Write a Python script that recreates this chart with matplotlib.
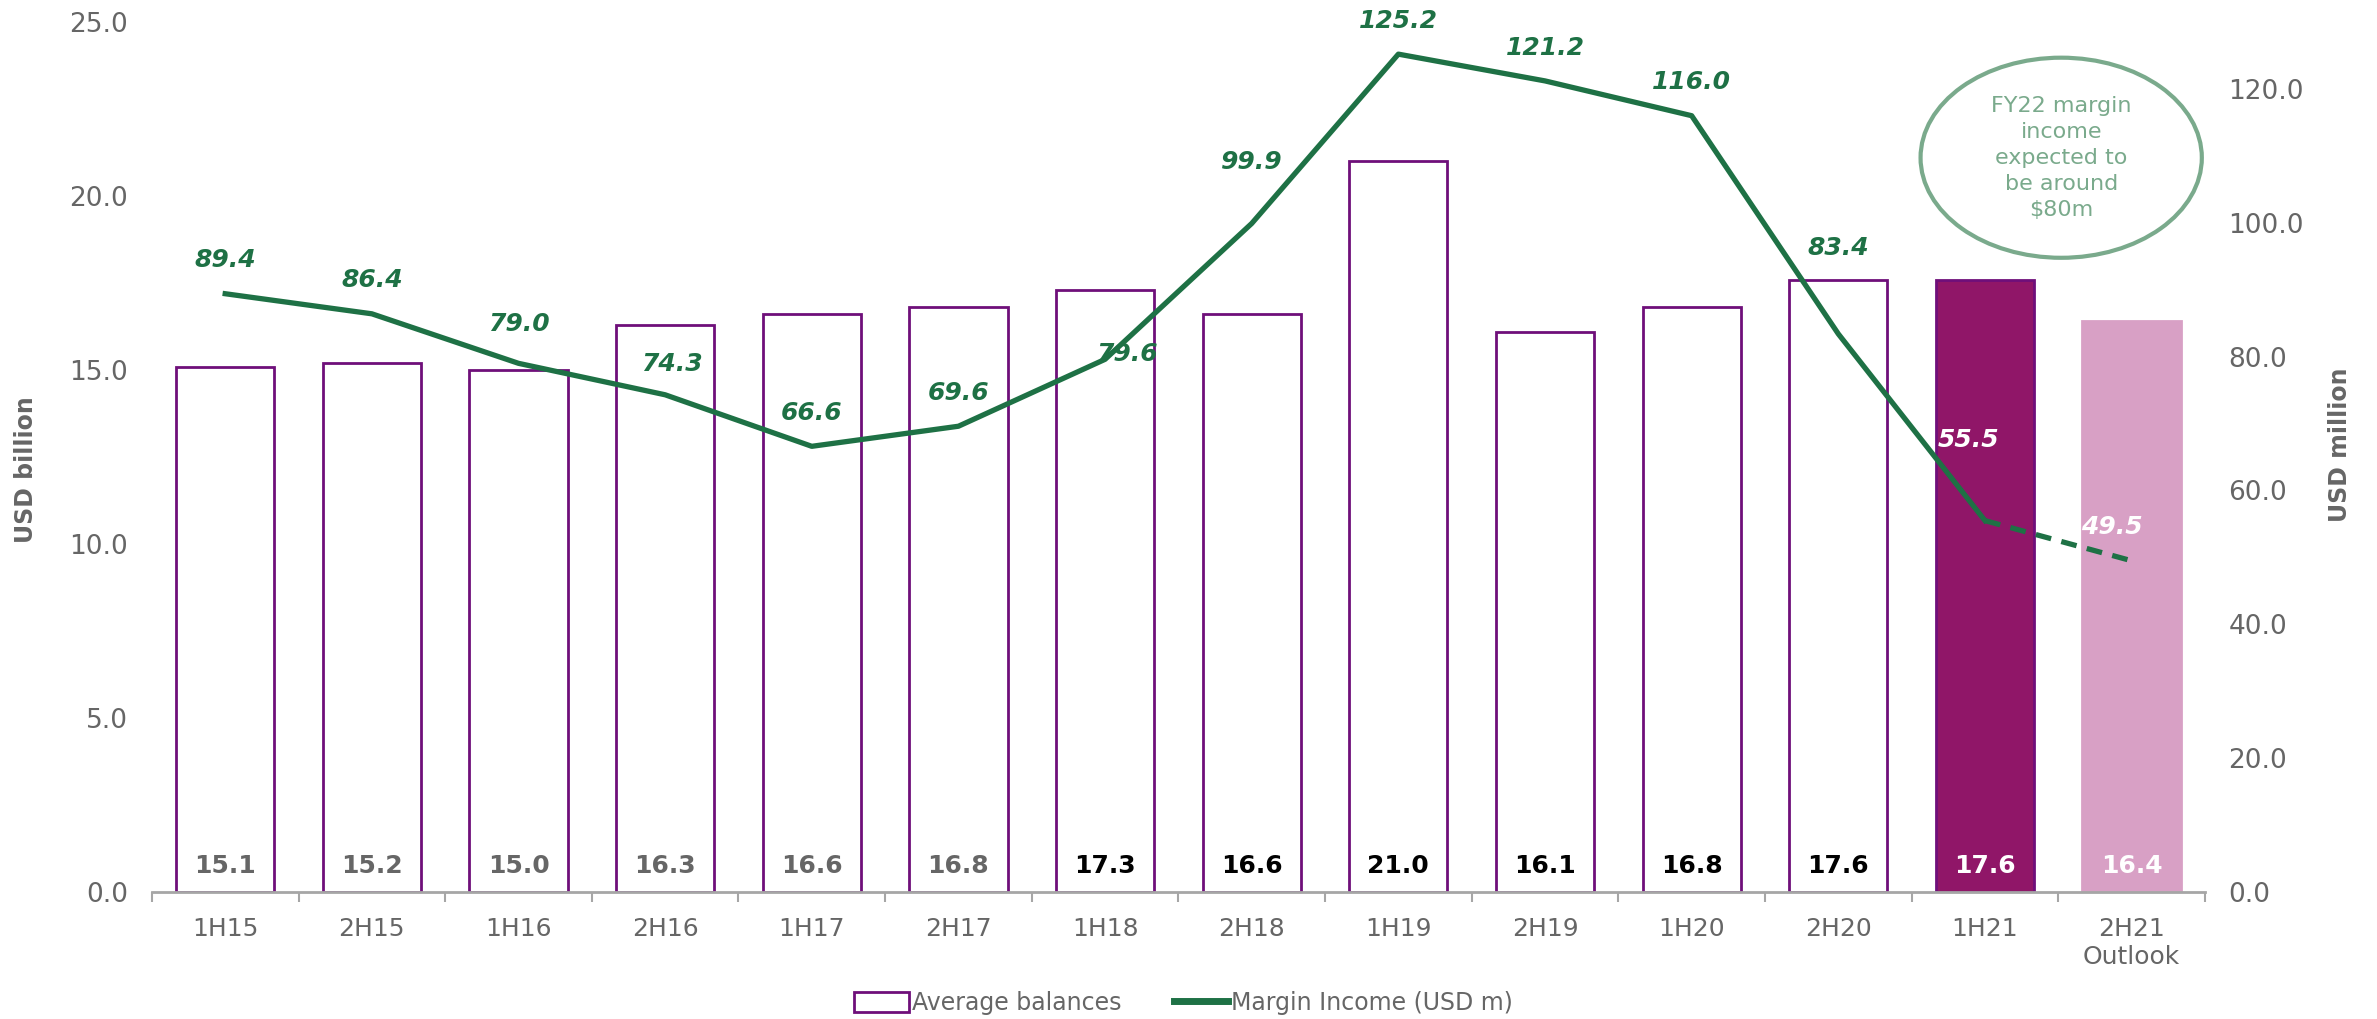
import matplotlib
matplotlib.use("Agg")
import matplotlib.pyplot as plt
from matplotlib.patches import Ellipse, Patch
from matplotlib.lines import Line2D
import numpy as np

# DATA
periods = ["1H15", "2H15", "1H16", "2H16", "1H17", "2H17", "1H18", "2H18",
           "1H19", "2H19", "1H20", "2H20", "1H21", "2H21\nOutlook"]
balances = [15.1, 15.2, 15.0, 16.3, 16.6, 16.8, 17.3, 16.6, 21.0, 16.1, 16.8, 17.6, 17.6, 16.4]
margin_income = [89.4, 86.4, 79.0, 74.3, 66.6, 69.6, 79.6, 99.9, 125.2, 121.2, 116.0, 83.4, 55.5, 49.5]

# label placement (points, relative to each line point)
lbl_dx = [0, 0, 0, 5, 0, 0, 16, 0, 0, 0, 0, 0, -12, -14]
lbl_dy = [24, 24, 28, 22, 24, 24, 4, 44, 24, 24, 24, 62, 58, 24]

PURPLE = "#6f0f7a"
DARK_MAGENTA = "#901668"
LIGHT_PINK = "#d8a0c5"
GREEN = "#1e7145"
SOFT_GREEN = "#7aaa8c"
GREY = "#666666"

plt.rcParams['font.family'] = ['DejaVu Sans']

fig = plt.figure(figsize=(23.77, 10.19), dpi=100)
ax = fig.add_axes([0.0639, 0.1246, 0.8637, 0.8538])
ax2 = ax.twinx()

x = np.arange(len(periods))

# bars
face = ["white"] * 12 + [DARK_MAGENTA, LIGHT_PINK]
edge = [PURPLE] * 13 + [LIGHT_PINK]
ax.bar(x, balances, width=0.67, color=face, edgecolor=edge, linewidth=2, zorder=2)

label_cols = [GREY] * 6 + ["black"] * 6 + ["white", "white"]
for xi, v, c in zip(x, balances, label_cols):
    ax.text(xi, 0.75, f"{v:.1f}", ha="center", va="center", fontsize=18,
            fontweight="bold", color=c, zorder=4)

ax.set_xlim(-0.5, len(periods) - 0.5)
ax.set_ylim(0, 25)
ax.set_yticks(np.arange(0, 25.1, 5))
ax.set_yticklabels([f"{t:.1f}" for t in np.arange(0, 25.1, 5)])
ax.set_xticks(x)
ax.set_xticklabels(periods)
ax.set_xticks(np.arange(-0.5, len(periods)), minor=True)
ax.tick_params(axis="x", which="major", length=0, pad=18, labelsize=18, labelcolor=GREY)
ax.tick_params(axis="x", which="minor", length=7, width=1.5, color="#a6a6a6")
ax.tick_params(axis="y", length=0, labelsize=19, labelcolor=GREY, pad=17)
for s in ["top", "left", "right"]:
    ax.spines[s].set_visible(False)
ax.spines["bottom"].set_color("#a6a6a6")
ax.spines["bottom"].set_linewidth(2)
fig.text(26 / 2377, 1 - 470 / 1019, "USD billion", rotation=90, ha="center", va="center",
         fontsize=17, fontweight="bold", color="#666666")

# line
ax2.plot(x[:13], margin_income[:13], color=GREEN, linewidth=3.8, zorder=5)
ax2.plot(x[12:], margin_income[12:], color=GREEN, linewidth=3.8, linestyle=(0, (3, 2)), zorder=5)
for i, v in enumerate(margin_income):
    col = "white" if i >= 12 else GREEN
    ax2.annotate(f"{v:.1f}", (x[i], v), xytext=(lbl_dx[i], lbl_dy[i]), textcoords="offset points",
                 ha="center", va="center", fontsize=18, fontweight="bold",
                 fontstyle="italic", color=col, zorder=6)

ax2.set_ylim(0, 130)
ax2.set_yticks(np.arange(0, 121, 20))
ax2.set_yticklabels([f"{t:.1f}" for t in np.arange(0, 121, 20)])
ax2.tick_params(axis="y", length=0, labelsize=19, labelcolor=GREY, pad=17)
for s in ["top", "left", "right", "bottom"]:
    ax2.spines[s].set_visible(False)
fig.text(2340 / 2377, 1 - 445 / 1019, "USD million", rotation=90, ha="center", va="center",
         fontsize=17, fontweight="bold", color="#666666")

# callout ellipse
ell = Ellipse((0.930, 0.844), 0.137, 0.230, transform=ax.transAxes, facecolor="white",
              edgecolor=SOFT_GREEN, linewidth=3, zorder=7)
ax2.add_patch(ell)
ax2.text(0.930, 0.844, "FY22 margin\nincome\nexpected to\nbe around\n$80m", transform=ax.transAxes,
         ha="center", va="center", fontsize=16, color=SOFT_GREEN, linespacing=1.38, zorder=8)

# legend
handles = [Patch(facecolor="white", edgecolor=PURPLE, linewidth=2, label="Average balances"),
           Line2D([0], [0], color=GREEN, linewidth=5, label="Margin Income (USD m)")]
fig.legend(handles=handles, loc="center", bbox_to_anchor=(0.498, 1 - 1003 / 1019), ncol=2,
           frameon=False, fontsize=17, labelcolor=GREY, handlelength=2.3, handleheight=0.9,
           handletextpad=0.15, columnspacing=2.2)

fig.savefig("out.png", dpi=100)
